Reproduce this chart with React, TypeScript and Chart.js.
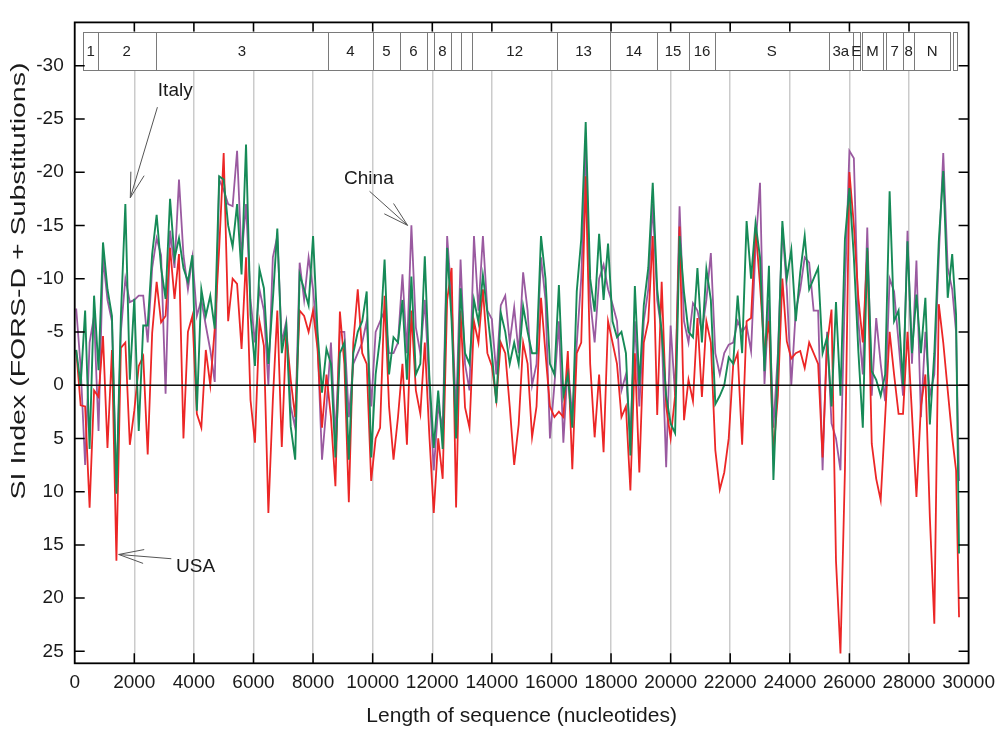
import { useEffect, useRef } from "react";
import { Chart, registerables } from "chart.js";
Chart.register(...registerables);

const FONT = 'Arial, "Liberation Sans", Helvetica, sans-serif';

// Sequence positions (nucleotides) of the sampled SI values
const POSITIONS = [
  50, 200, 350, 500, 650, 800, 950, 1100, 1250, 1400,
  1550, 1700, 1850, 2000, 2150, 2300, 2450, 2600, 2750, 2900,
  3050, 3200, 3350, 3500, 3650, 3800, 3950, 4100, 4250, 4400,
  4550, 4700, 4850, 5000, 5150, 5300, 5450, 5600, 5750, 5900,
  6050, 6200, 6350, 6500, 6650, 6800, 6950, 7100, 7250, 7400,
  7550, 7700, 7850, 8000, 8150, 8300, 8450, 8600, 8750, 8900,
  9050, 9200, 9350, 9500, 9650, 9800, 9950, 10100, 10250, 10400,
  10550, 10700, 10850, 11000, 11150, 11300, 11450, 11600, 11750, 11900,
  12050, 12200, 12350, 12500, 12650, 12800, 12950, 13100, 13250, 13400,
  13550, 13700, 13850, 14000, 14150, 14300, 14450, 14600, 14750, 14900,
  15050, 15200, 15350, 15500, 15650, 15800, 15950, 16100, 16250, 16400,
  16550, 16700, 16850, 17000, 17150, 17300, 17450, 17600, 17750, 17900,
  18050, 18200, 18350, 18500, 18650, 18800, 18950, 19100, 19250, 19400,
  19550, 19700, 19850, 20000, 20150, 20300, 20450, 20600, 20750, 20900,
  21050, 21200, 21350, 21500, 21650, 21800, 21950, 22100, 22250, 22400,
  22550, 22700, 22850, 23000, 23150, 23300, 23450, 23600, 23750, 23900,
  24050, 24200, 24350, 24500, 24650, 24800, 24950, 25100, 25250, 25400,
  25550, 25700, 25850, 26000, 26150, 26300, 26450, 26600, 26750, 26900,
  27050, 27200, 27350, 27500, 27650, 27800, 27950, 28100, 28250, 28400,
  28550, 28700, 28850, 29000, 29150, 29300, 29450, 29580, 29680,
];

const GREEN = [
  -3.3, 0, -7, 6, -8.4, -1.4, -13.4, -9, -6.5, 10.2,
  -6.5, -17, -0.5, -8.1, 4.3, -5.6, -5.6, -12.3, -16, -11,
  -8.1, -17.5, -11.9, -13.8, -11, -9.7, -12.2, 2.4, -9, -6.5,
  -8.4, -5.3, -19.6, -19.3, -15, -13, -17, -10.4, -22.6, -6.6,
  -1.8, -10.9, -9.1, -2, -8, -14.7, -3, -5.6, 3.9, 7,
  -10.4, -9, -7.5, -14, -5, 0.7, -3.4, -2, 6.8, -3,
  -4, 7, -3, -5, -6, -8.8, 6.8, -1, -4.5, -11.8,
  -1, -4.5, -4, -8, -0.5, -10.2, -1, -2, -12.1, -1,
  5.9, 0.5, 6, -12.9, -6, 5, -9.1, -3, -2, -8,
  -5.9, -10.3, -6.8, -3, 1.7, -6.8, -5, -2, -4, -2,
  -7.4, -5, -3, -3, -14, -10, -2, -1, -9.4, 1,
  -1, 4, -8.8, -13.7, -24.7, -10, -6.9, -14.2, -8, -13.3,
  -6, -4.5, -5, -3, 6.6, -9.3, 0, -7.5, -11, -19,
  -9, -5, 1, 3.6, 4.5, -14, -8.7, -5, -4.5, -11,
  -4, -10.9, -8, 1.8, 1, 0, -2.6, -2, -8.4, -3,
  -15.4, -10, -15.2, -12, -1.3, -11.2, 8.9, -2, -15.4, -10,
  -12.7, -6, -10.6, -14, -9, -10, -11, -3, -4.5, 2,
  -7.8, 1, -13.7, -18.5, -12, -3.2, 4, -12.9, -1.3, -0.5,
  1, -1, -18.2, -6, -7, 0, -13.5, -3, -8.5, -3,
  -8.2, 3.7, -3, -13.5, -20.1, -8.2, -12.3, -6.6, 15.8,
];

const PURPLE = [
  -7.2, -1.7, 7.5, -4, -6.5, 4.3, -12, -8, -6, 10,
  -5, -10, -7.8, -8, -8.4, -8.4, -4, -11, -13.8, -12.2,
  0.8, -14.5, -11, -19.3, -12.2, -9, -12, -6.5, -8, -5.6,
  -3.3, -0.3, -19.3, -18.3, -17, -16.8, -22, -12, -17, -8,
  -4, -9, -7, 0, -12, -14, -4, -6, 2, 4,
  -11.5, -8, -12, -9, -4, 7, 2, -4, 5, -5,
  -5, 3, -2, -3, -4, -6, 2, -5, -6, -7,
  -3, -3, -4, -10.4, -3, -15, -5.4, -3, -8, 0,
  8, 2, 4, -14, -8, 3, -11.8, -2, 0.5, -14,
  -7, -14, -7, -6.2, -1, -7.5, -8.4, -4, -7.3, -3,
  -10.6, -7, 0, -2, -12, -8, 5, 0, -6, 5.4,
  -2, 3, -3.9, -10, -22.5, -8, -4, -10, -11.3, -9,
  -7.6, -6, 0.5, -1, 5, -6, 2, -6, -9, -17,
  -8, -5, 7.7, -5.6, 1, -16.8, -6, -4, -7.7, -7,
  -5, -8, -12.4, -3, -1, -3, -3.8, -4, -6, -5,
  -5.6, -3.2, -13, -19, -0.1, -8, 4, -3, -14.8, -9,
  0, -7, -9, -12, -11.5, -7, -7, 8, -5, 3.6,
  5, 8, -9, -22, -21.3, -6, -1, -14.8, 1, -6.3,
  -2, 1.5, -10, -8.8, -4, 1, -14.5, -2, -11.7, 3,
  -5, 1, -1, -12, -21.8, -11, -9, -5, 9,
];

const RED = [
  -3.3, 1.9, 2, 11.5, 0.5, 1.1, -4.6, 5.9, -3.3, 16.5,
  -3.5, -4, 5.6, 2.4, -1.8, -2.7, 6.5, -4.9, -9.7, -5.9,
  -6.5, -12.9, -8.1, -12.3, 5, -5, -6.5, 2.7, 4, -3.3,
  0, -5.3, -12.9, -21.8, -6, -10, -9.5, -3.4, -12, 1.4,
  5.4, -6, -3.7, 12, 1.4, -7, 5.8, -5, -0.5, 3,
  -7, -6.5, -5, -7, -3.4, 4, -1, 3, 9.5, -6.9,
  -2, 11, -4, -9, -3, -2, 9, 5, 4, -8.4,
  2, 7, 3, -2, 5.6, -7, 0.5, 2.7, -4, 4.6,
  12, 5, 8.8, -8, -11, 11.5, -7, 2.1, 4, -6,
  -4, -9, -3, -1.8, 1.4, -4, -3, 2, 7.5, 3.7,
  -4, -2, 4.9, 2, -8.2, -3, 2, 3, 2.5, 3,
  -3.2, 7.9, -3, -4, -19.6, -2, 4.9, -1, 6.3, -6,
  -4, -2, 3, 2, 9.9, -3, 8.2, -4, -6, -14,
  2.8, -9.7, 2, 5, 1, -14.9, 3.3, -0.5, 1.5, -6.3,
  1.1, -6, -4, 6.1, 9.8, 8.2, 5, -1.9, -3, 5.6,
  -6, -6.3, -14.8, -9.4, -3, -6, 6.4, 1, -10, -4.1,
  -2.5, -3, -3.2, -1.6, -4, -3, -2, 6.8, -3.8, -7.1,
  16.5, 25.2, 8, -20, -15, -8.2, -4, -12.6, 5.5, 8.8,
  10.8, 3, -5, -1, 2.7, 2.7, -5, 2.7, 10.5, 2,
  -1, 12.4, 22.4, -7.6, -4, 0.5, 4.9, 8, 21.8,
];

const X_TICKS = [0, 2000, 4000, 6000, 8000, 10000, 12000, 14000, 16000, 18000, 20000, 22000, 24000, 26000, 28000, 30000];
const Y_TICKS = [-30, -25, -20, -15, -10, -5, 0, 5, 10, 15, 20, 25];

// Genome map boxes (nucleotide start / end)
const GENE_STARTS = [290, 776, 2720, 8500, 10000, 10920, 11810, 12050, 12630, 12960, 13350, 16180, 17980, 19545, 20620, 21490, 25305, 26115, 26430, 27115, 27225, 27810, 28170, 29470];
const GENE_ENDS = [776, 2720, 8500, 10000, 10920, 11810, 12050, 12630, 12960, 13350, 16180, 17980, 19545, 20620, 21490, 25305, 26115, 26340, 27115, 27225, 27810, 28170, 29390, 29610];
const GENE_LABELS = ["1", "2", "3", "4", "5", "6", "", "8", "", "", "12", "13", "14", "15", "16", "S", "3a", "E", "M", "", "7", "8", "N", ""];
const GENE_BOX_TOP = -33.2;
const GENE_BOX_BOTTOM = -29.6;

// Annotations (data coordinates)
const ANNOT_LABELS = ["Italy", "China", "USA"];
const ANNOT_TEXT_X = [3375, 9873, 4058];
const ANNOT_TEXT_Y = [-27.6, -19.4, 17.1];
const ANNOT_TAIL_X = [2776, 9896, 3242];
const ANNOT_TAIL_Y = [-26.1, -18.2, 16.3];
const ANNOT_TIP_X = [1866, 11172, 1476];
const ANNOT_TIP_Y = [-17.6, -15.0, 15.9];

const X_TITLE = "Length of sequence (nucleotides)";
const Y_TITLE = "SI Index (FORS-D + Substitutions)";

function drawArrow(ctx: CanvasRenderingContext2D, x1: number, y1: number, x2: number, y2: number) {
  const ang = Math.atan2(y2 - y1, x2 - x1);
  ctx.beginPath();
  ctx.moveTo(x1, y1);
  ctx.lineTo(x2, y2);
  for (const s of [-1, 1]) {
    const a2 = ang + Math.PI + s * 0.27;
    ctx.moveTo(x2, y2);
    ctx.lineTo(x2 + 26 * Math.cos(a2), y2 + 26 * Math.sin(a2));
  }
  ctx.stroke();
}

const overlay = {
  id: "overlay",
  afterDatasetsDraw(chart: any) {
    const { ctx, chartArea: a, scales } = chart;
    const x = scales.x;
    const y = scales.y;
    ctx.save();
    // zero line
    const y0 = y.getPixelForValue(0);
    ctx.strokeStyle = "#111";
    ctx.lineWidth = 1.5;
    ctx.beginPath();
    ctx.moveTo(a.left, y0);
    ctx.lineTo(a.right, y0);
    ctx.stroke();

    // gene boxes
    const bt = y.getPixelForValue(GENE_BOX_TOP);
    const bb = y.getPixelForValue(GENE_BOX_BOTTOM);
    ctx.lineWidth = 1;
    ctx.strokeStyle = "#7a7a7a";
    ctx.fillStyle = "#fff";
    for (let i = 0; i < GENE_STARTS.length; i++) {
      const l = Math.round(x.getPixelForValue(GENE_STARTS[i])) + 0.5;
      const r = Math.round(x.getPixelForValue(GENE_ENDS[i])) + 0.5;
      ctx.fillRect(l, Math.round(bt) + 0.5, r - l, bb - bt);
      ctx.strokeRect(l, Math.round(bt) + 0.5, r - l, Math.round(bb - bt));
    }
    ctx.fillStyle = "#222";
    ctx.font = `15px ${FONT}`;
    ctx.textAlign = "center";
    ctx.textBaseline = "middle";
    for (let i = 0; i < GENE_STARTS.length; i++) {
      if (!GENE_LABELS[i]) continue;
      const cx = (x.getPixelForValue(GENE_STARTS[i]) + x.getPixelForValue(GENE_ENDS[i])) / 2;
      ctx.fillText(GENE_LABELS[i], cx, (bt + bb) / 2 + 1);
    }

    // frame
    ctx.strokeStyle = "#000";
    ctx.lineWidth = 1.8;
    ctx.strokeRect(a.left, a.top, a.right - a.left, a.bottom - a.top);
    // inward ticks
    ctx.lineWidth = 1.5;
    ctx.beginPath();
    for (const v of X_TICKS) {
      if (v <= 0 || v >= 30000) continue;
      const px = x.getPixelForValue(v);
      ctx.moveTo(px, a.bottom);
      ctx.lineTo(px, a.bottom - 10);
      ctx.moveTo(px, a.top);
      ctx.lineTo(px, a.top + 9);
    }
    for (const v of Y_TICKS) {
      const py = y.getPixelForValue(v);
      ctx.moveTo(a.left, py);
      ctx.lineTo(a.left + 10, py);
      ctx.moveTo(a.right, py);
      ctx.lineTo(a.right - 10, py);
    }
    ctx.stroke();

    // annotations
    ctx.font = `19px ${FONT}`;
    ctx.fillStyle = "#1a1a1a";
    ctx.strokeStyle = "#555";
    ctx.lineWidth = 1;
    for (let k = 0; k < ANNOT_LABELS.length; k++) {
      ctx.fillText(ANNOT_LABELS[k], x.getPixelForValue(ANNOT_TEXT_X[k]), y.getPixelForValue(ANNOT_TEXT_Y[k]));
      drawArrow(
        ctx,
        x.getPixelForValue(ANNOT_TAIL_X[k]),
        y.getPixelForValue(ANNOT_TAIL_Y[k]),
        x.getPixelForValue(ANNOT_TIP_X[k]),
        y.getPixelForValue(ANNOT_TIP_Y[k])
      );
    }

    // axis titles
    ctx.fillStyle = "#1a1a1a";
    ctx.font = `21px ${FONT}`;
    ctx.fillText(X_TITLE, (a.left + a.right) / 2, 716);
    ctx.save();
    ctx.translate(19, 281);
    ctx.rotate(-Math.PI / 2);
    ctx.font = `20px ${FONT}`;
    const w = ctx.measureText(Y_TITLE).width;
    ctx.scale(437 / w, 1);
    ctx.fillText(Y_TITLE, 0, 0);
    ctx.restore();
    ctx.restore();
  },
};

export default function App() {
  const ref = useRef<HTMLCanvasElement>(null);
  useEffect(() => {
    document.body.style.margin = "0";
    const mk = (vals: number[]) => POSITIONS.map((p, i) => ({ x: p, y: vals[i] }));
    const chart = new Chart(ref.current as HTMLCanvasElement, {
      type: "line",
      data: {
        datasets: [
          { label: "green", data: mk(GREEN), borderColor: "#168a57", borderWidth: 1.9, pointRadius: 0, tension: 0, order: 0 },
          { label: "red", data: mk(RED), borderColor: "#ec2626", borderWidth: 1.8, pointRadius: 0, tension: 0, order: 1 },
          { label: "purple", data: mk(PURPLE), borderColor: "#9a5aa0", borderWidth: 1.8, pointRadius: 0, tension: 0, order: 2 },
        ],
      },
      options: {
        responsive: false,
        animation: false,
        devicePixelRatio: 1,
        layout: { padding: { top: 14, right: 28, left: 0, bottom: 0 } },
        plugins: { legend: { display: false }, tooltip: { enabled: false }, title: { display: false } },
        scales: {
          x: {
            type: "linear",
            min: 0,
            max: 30000,
            afterFit: (s: any) => {
              s.height = 65.7;
            },
            afterBuildTicks: (s: any) => {
              s.ticks = X_TICKS.map((v) => ({ value: v }));
            },
            ticks: {
              autoSkip: false,
              maxRotation: 0,
              minRotation: 0,
              padding: 8,
              color: "#1a1a1a",
              font: { family: FONT, size: 19 },
              callback: (v: any) => String(v),
            },
            grid: { color: "#cbcbcb", lineWidth: 1.5, drawTicks: false },
            border: { display: false },
          },
          y: {
            type: "linear",
            min: -34.06,
            max: 26.12,
            reverse: true,
            afterFit: (s: any) => {
              s.width = 74.7;
            },
            afterBuildTicks: (s: any) => {
              s.ticks = Y_TICKS.map((v) => ({ value: v }));
            },
            ticks: {
              padding: 11,
              color: "#1a1a1a",
              font: { family: FONT, size: 19 },
              callback: (v: any) => String(v),
            },
            grid: { display: false, drawTicks: false },
            border: { display: false },
          },
        },
      } as any,
      plugins: [overlay],
    });
    return () => chart.destroy();
  }, []);
  return (
    <div style={{ position: "relative", width: 1003, height: 729, background: "#fff" }}>
      <canvas ref={ref} width={1003} height={729} style={{ display: "block" }} />
    </div>
  );
}
